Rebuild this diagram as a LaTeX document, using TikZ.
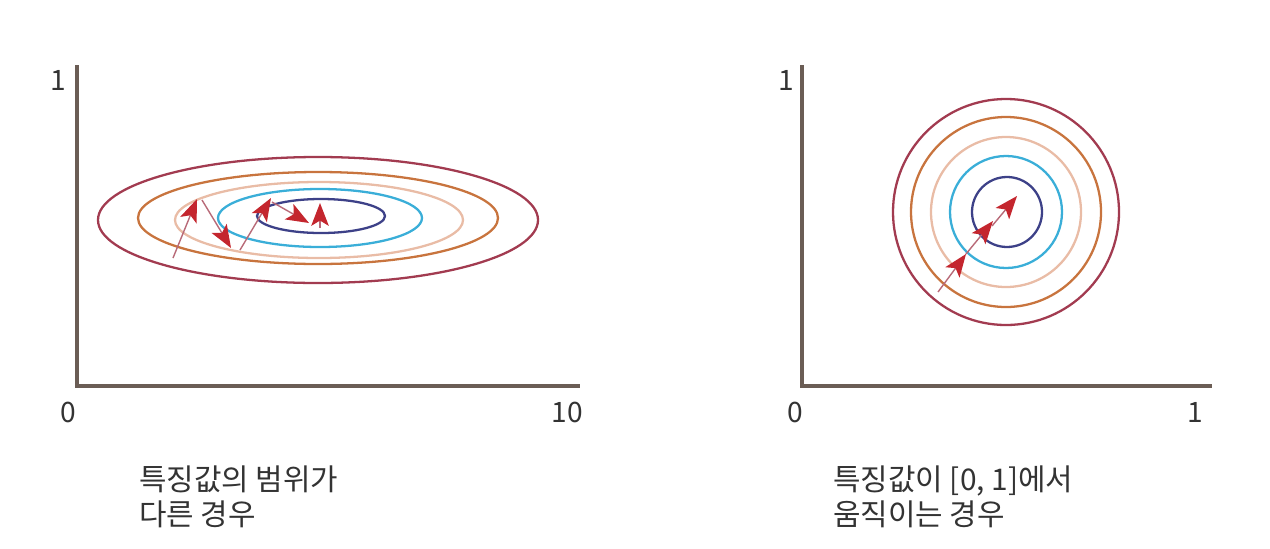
\documentclass[tikz,border=0pt]{standalone}
\usepackage{fontspec}
\setmainfont{Noto Sans CJK KR}
\usetikzlibrary{arrows.meta}
\definecolor{axisc}{HTML}{6B5D55}
\definecolor{c1}{HTML}{A23B50}
\definecolor{c2}{HTML}{C8743E}
\definecolor{c3}{HTML}{E9BCA6}
\definecolor{c4}{HTML}{3AAED8}
\definecolor{c5}{HTML}{3D4188}
\definecolor{headc}{HTML}{C4262E}
\definecolor{shaftc}{HTML}{B86A78}
\definecolor{txt}{HTML}{333333}
\tikzset{
  axisline/.style={draw=axisc, line width=2.3pt},
  ring/.style={line width=1.3pt},
  grad/.style={draw=shaftc, line width=0.8pt, -{Stealth[length=13pt, width=10pt, inset=3pt, color=headc, fill=headc]}},
  ticklbl/.style={font=\fontsize{16}{18}\selectfont, text=txt, inner sep=0pt},
  caption/.style={font=\fontsize{17}{20}\selectfont, text=txt, align=left, anchor=north west, inner sep=0pt}
}
\begin{document}
\begin{tikzpicture}[x=0.02cm,y=-0.02cm]
\useasboundingbox (0,0) rectangle (1270,548);
% left axes
\coordinate (LT) at (77,65);
\coordinate (LO) at (77,386);
\coordinate (LR) at (580,386);
\draw[axisline] (LT) -- (LO) -- (LR);
\node[ticklbl] (l1) at (58,80) {1};
\node[ticklbl] (l0) at (68,412) {0};
\node[ticklbl] (l10) at (567,412) {10};
% left ellipses
\draw[ring, c1] (318,220) ellipse [x radius=220, y radius=63];
\draw[ring, c2] (318,218) ellipse [x radius=180, y radius=46];
\draw[ring, c3] (319,220) ellipse [x radius=144, y radius=38];
\draw[ring, c4] (320,218) ellipse [x radius=102, y radius=29];
\draw[ring, c5] (321,216) ellipse [x radius=64, y radius=17];
% left arrows
\coordinate (a0) at (173,258);
\coordinate (a1) at (197,199);
\coordinate (b0) at (202,200);
\coordinate (b1) at (231,248);
\coordinate (c0) at (240,250);
\coordinate (c1p) at (271,198);
\coordinate (d0) at (272,202);
\coordinate (d1) at (309,223);
\coordinate (e0) at (320,228);
\coordinate (e1) at (320,203);
\draw[grad] (a0) -- (a1);
\draw[grad] (b0) -- (b1);
\draw[grad] (c0) -- (c1p);
\draw[grad] (d0) -- (d1);
\draw[grad] (e0) -- (e1);
% right axes
\coordinate (RT) at (802,65);
\coordinate (RO) at (802,386);
\coordinate (RR) at (1212,386);
\draw[axisline] (RT) -- (RO) -- (RR);
\node[ticklbl] (r1) at (786,80) {1};
\node[ticklbl] (r0) at (795,412) {0};
\node[ticklbl] (rx1) at (1195,412) {1};
% right circles
\draw[ring, c1] (1006,212) circle [radius=113];
\draw[ring, c2] (1006,212) circle [radius=95];
\draw[ring, c3] (1006,212) circle [radius=75];
\draw[ring, c4] (1006,212) circle [radius=56];
\draw[ring, c5] (1007,212) circle [radius=35];
% right arrows
\coordinate (f0) at (938,292);
\coordinate (f1) at (966,254);
\coordinate (g0) at (966,254);
\coordinate (g1) at (993,221);
\coordinate (h0) at (992,226);
\coordinate (h1) at (1017,196);
\draw[grad] (f0) -- (f1);
\draw[grad] (g0) -- (g1);
\draw[grad] (h0) -- (h1);
% captions
\node[caption] (capL) at (139,465) {특징값의 범위가\\다른 경우};
\node[caption] (capR) at (833,465) {특징값이 [0, 1]에서\\움직이는 경우};
\end{tikzpicture}
\end{document}
